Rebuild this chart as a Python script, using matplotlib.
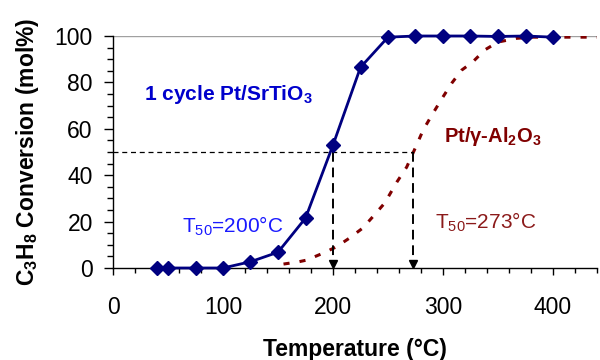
import matplotlib
matplotlib.use("Agg")
import matplotlib.pyplot as plt
import matplotlib.transforms as mtransforms
from matplotlib.ticker import MultipleLocator

plt.rcParams['font.family'] = ['Liberation Sans', 'DejaVu Sans']
plt.rcParams['mathtext.fontset'] = 'custom'
plt.rcParams['mathtext.default'] = 'regular'

# ---- data ----
temp_srtio3 = [40, 50, 75, 100, 125, 150, 175, 200, 225, 250, 275, 300, 325, 350, 375, 400]
conv_srtio3 = [0, 0, 0, 0, 2.7, 6.8, 21.5, 53, 86.5, 99.5, 100, 100, 100, 99.8, 100, 99.5]

temp_al2o3 = [155, 168, 176, 191, 203, 215, 227, 236, 247, 258, 267, 276, 282, 290,
              299, 308, 317, 327, 338, 350, 367, 381, 400, 420, 440]
conv_al2o3 = [1.7, 2.6, 3.4, 6.4, 9.1, 12.9, 17.2, 22, 28, 37, 43.5, 53, 59.5, 66,
              73, 79.7, 85.3, 88.8, 94, 97.4, 99, 99.5, 99.5, 99.5, 99.5]

t50_values = [200, 273]
half_conv = 50

xticks = [0, 100, 200, 300, 400]
yticks = [0, 20, 40, 60, 80, 100]

navy = '#000080'
dark_red = '#800000'

fig = plt.figure(figsize=(6, 3.6), dpi=100)
ax = fig.add_axes([113/600, 1-268/360, 484/600, 232/360])

ax.set_xlim(0, 440)
ax.set_ylim(0, 100)

# gridline at top
ax.axhline(100, color='#A0A0A0', lw=1.0, zorder=1)

# Al2O3 dotted curve
ax.plot(temp_al2o3, conv_al2o3, color=dark_red, lw=2.2,
        linestyle=(0, (2, 3.3)), dash_capstyle='butt', zorder=2)

# T50 guide lines
ax.plot([0, t50_values[1]], [half_conv, half_conv], color='black', lw=0.9,
        linestyle=(0, (4, 3)), zorder=3)
for t in t50_values:
    ax.plot([t, t], [half_conv, 2], color='black', lw=1.4,
            linestyle=(0, (5, 3)), zorder=3)
    off = mtransforms.ScaledTranslation(0, 3.0/72, fig.dpi_scale_trans)
    ax.plot([t], [0], marker='v', markersize=6, color='black',
            transform=ax.transData + off, zorder=4, clip_on=False)

# SrTiO3 line
ax.plot(temp_srtio3, conv_srtio3, color=navy, lw=2.0, marker='D',
        markersize=7.5, markerfacecolor=navy, markeredgecolor=navy, zorder=5,
        clip_on=False)

# text annotations
ax.text(105, 75, '1 cycle Pt/SrTiO$_3$', color='#0000CC', fontsize=15,
        fontweight='bold', ha='center', va='center')
ax.text(109, 18, 'T$_{50}$=200°C', color='#1A1AFF', fontsize=15,
        ha='center', va='center')
ax.text(345, 56.5, 'Pt/γ-Al$_2$O$_3$', color=dark_red, fontsize=14.5,
        fontweight='bold', ha='center', va='center')
ax.text(339, 19.5, 'T$_{50}$=273°C', color='#8B1A1A', fontsize=15,
        ha='center', va='center')

# axes styling
ax.spines['top'].set_visible(False)
ax.spines['right'].set_visible(False)
ax.spines['left'].set_linewidth(1.0)
ax.spines['bottom'].set_linewidth(1.0)

ax.set_xticks(xticks)
ax.set_yticks(yticks)
ax.xaxis.set_minor_locator(MultipleLocator(20))
ax.yaxis.set_minor_locator(MultipleLocator(5))
ax.tick_params(axis='x', which='major', direction='out', length=5, width=1,
               pad=15, labelsize=16.5)
ax.tick_params(axis='x', which='minor', direction='out', length=3.5, width=1)
ax.tick_params(axis='y', which='major', direction='out', length=6.5, width=1,
               pad=8, labelsize=16.5)
ax.tick_params(axis='y', which='minor', direction='out', length=4.5, width=1)

ax.set_xlabel('Temperature (°C)', fontsize=16.5, fontweight='bold', labelpad=14)
ax.set_ylabel('C$_3$H$_8$ Conversion (mol%)', fontsize=16.5, fontweight='bold',
              labelpad=10)

fig.savefig('out.png', dpi=100)
